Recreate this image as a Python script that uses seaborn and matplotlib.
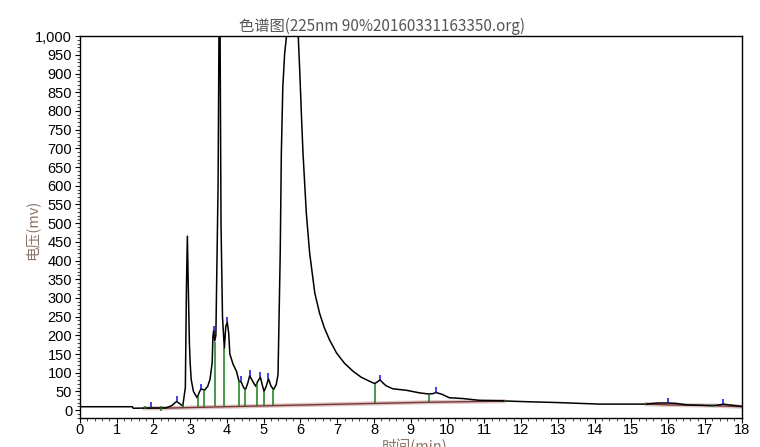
import numpy as np
import pandas as pd
import matplotlib
matplotlib.use("Agg")
import matplotlib.pyplot as plt
from matplotlib.ticker import MultipleLocator, FuncFormatter
import seaborn as sns

# chromatogram trace (time in min, signal in mV)
time_min = [0.0, 1.43, 1.45, 2.35, 2.5, 2.63, 2.72, 2.80, 2.87, 2.90, 2.925, 2.95, 2.98, 3.0,
            3.03, 3.09, 3.19, 3.26, 3.30, 3.39, 3.48, 3.54, 3.60, 3.62, 3.64, 3.67, 3.70, 3.76,
            3.79, 3.81, 3.84, 3.88, 3.93, 3.97, 4.01, 4.05, 4.08, 4.17, 4.26, 4.33, 4.39, 4.46,
            4.51, 4.57, 4.62, 4.69, 4.78, 4.84, 4.91, 4.96, 5.01, 5.07, 5.13, 5.20, 5.27, 5.34,
            5.39, 5.42, 5.45, 5.48, 5.52, 5.57, 5.62, 5.70, 5.80, 5.89, 5.94, 5.98, 6.03, 6.07,
            6.16, 6.25, 6.39, 6.52, 6.65, 6.79, 6.98, 7.2, 7.43, 7.65, 7.88, 8.02, 8.10, 8.16,
            8.25, 8.33, 8.51, 8.88, 9.24, 9.49, 9.60, 9.69, 9.75, 9.83, 10.05, 10.41, 10.87,
            11.41, 11.96, 13.04, 14.13, 15.4, 15.6, 15.76, 16.0, 16.2, 16.5, 17.21, 17.4, 17.5,
            17.65, 18.0]
signal_mv = [9, 9, 5, 6, 12, 23, 17, 11, 60, 330, 465, 330, 180, 127,
             81, 50, 33, 50, 57, 53, 64, 82, 127, 198, 212, 185, 200, 600,
             1100, 1100, 500, 250, 165, 224, 235, 205, 150, 122, 104, 77, 75, 59,
             56, 73, 92, 79, 64, 77, 88, 68, 50, 64, 84, 64, 55, 68,
             95, 256, 420, 686, 864, 953, 1000, 1050, 1060, 1030, 1000, 909, 780, 686,
             526, 420, 313, 259, 220, 188, 153, 125, 104, 88, 77, 71, 76, 81,
             72, 65, 57, 53, 46, 43, 44, 47, 45, 43, 33, 31, 26,
             25, 23, 20, 16, 16, 18, 19, 19, 18, 14, 12, 14, 16,
             14, 10]

# integration baseline segments
base_time = [1.75, 2.2, 5.3, 9.49, 11.55, np.nan, 15.38, 16.0, 17.2, 18.0]
base_mv = [5, 5, 12, 21, 24, np.nan, 16, 14, 12, 9]

# peak split drop lines
drop_time = [3.21, 3.37, 3.67, 3.93, 4.33, 4.50, 4.81, 5.00, 5.25, 8.03, 9.49]
drop_top = [35, 55, 182, 165, 77, 57, 72, 50, 56, 70, 42]
drop_bottom = [8, 8, 10, 11, 11, 12, 12, 12, 13, 19, 21]

# short start/end markers
mark_time = [1.76, 2.2, 2.8, 11.55, 15.38, 17.2]
mark_lo = [4, -3, 8, 21, 14, 8]
mark_hi = [12, 10, 17, 27, 20, 16]

# peak apex markers
apex_time = [1.93, 2.63, 3.30, 3.64, 4.01, 4.39, 4.62, 4.91, 5.13, 8.16, 9.69, 16.0, 17.5]
apex_mv = [8, 23, 57, 212, 235, 77, 92, 88, 84, 81, 47, 19, 16]

df = pd.DataFrame({"time": time_min, "mv": signal_mv})

sns.set_style("white")
plt.rcParams["font.family"] = ["Liberation Sans", "DejaVu Sans"]

fig = plt.figure(figsize=(7.6, 4.47), dpi=100)
ax = fig.add_axes([0.105, 0.065, 0.871, 0.854])

# baseline with light halo
ax.plot(base_time, base_mv, color="#dcc6c6", lw=3, zorder=1)
ax.plot(base_time, base_mv, color="#7a3434", lw=1, zorder=2)

sns.lineplot(data=df, x="time", y="mv", sort=False, estimator=None,
             color="black", lw=1.1, ax=ax, zorder=3)

ax.vlines(drop_time, drop_bottom, drop_top, color="#1a7a1a", lw=1.1, zorder=4)
ax.vlines(mark_time, mark_lo, mark_hi, color="#1a7a1a", lw=1.1, zorder=4)
apex_top = [v + 14 for v in apex_mv]
ax.vlines(apex_time, apex_mv, apex_top, color="#1010e0", lw=1.1, zorder=5)

ax.set_xlim(0, 18)
ax.set_ylim(-21, 1000)
ax.xaxis.set_major_locator(MultipleLocator(1))
ax.xaxis.set_minor_locator(MultipleLocator(0.2))
ax.yaxis.set_major_locator(MultipleLocator(50))
ax.yaxis.set_minor_locator(MultipleLocator(10))
ax.yaxis.set_major_formatter(FuncFormatter(lambda v, p: f"{int(v):,}"))
ax.tick_params(axis="both", which="major", direction="out", length=3.5, width=0.8,
               labelsize=10.5, colors="black", pad=2)
ax.tick_params(axis="x", which="major", pad=0)
ax.tick_params(axis="both", which="minor", direction="out", length=2, width=0.6)
ax.tick_params(bottom=True, left=True, which="both")
for s in ax.spines.values():
    s.set_color("black")
    s.set_linewidth(1)
ax.set_xlabel("")
ax.set_ylabel("")

cjk = ["Noto Sans CJK SC", "DejaVu Sans"]
fig.text(0.503, 0.94, "色谱图(225nm 90%20160331163350.org)", ha="center", va="center",
         fontsize=11, color="#555555", family=cjk)
fig.text(0.042, 0.485, "电压(mv)", rotation=90, ha="center", va="center",
         fontsize=10.5, color="#8c7466", family=cjk)
fig.text(0.546, 0.018, "时间(min)", ha="center", va="top",
         fontsize=10.5, color="#8c7466", family=cjk)

fig.savefig("out.png", dpi=100)
